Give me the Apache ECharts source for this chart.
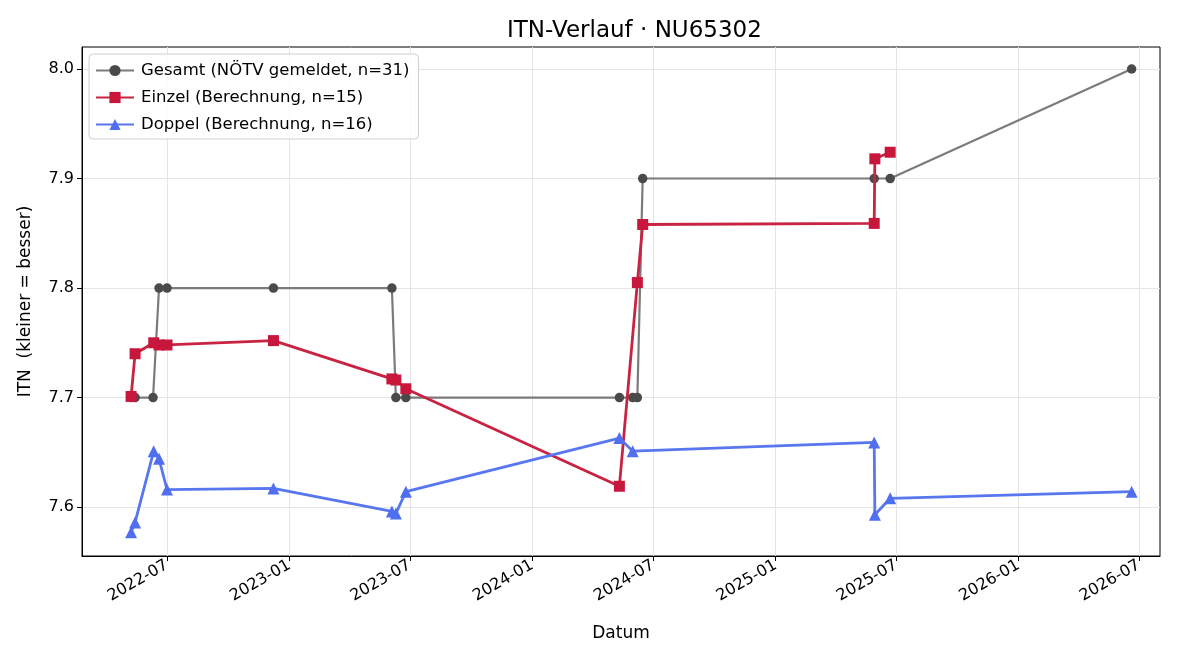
<!DOCTYPE html>
<html><head><meta charset="utf-8">
<script src="https://cdn.jsdelivr.net/npm/echarts@6/dist/echarts.min.js"></script>
<style>html,body{margin:0;padding:0;background:#fff}#c{width:1200px;height:660px}</style>
</head><body><div id="c"></div>
<script>
// ---- data ----
const gesamtDates = ['2022-05-08','2022-05-14','2022-06-10','2022-06-19','2022-07-01','2022-12-08','2023-06-04','2023-06-10','2023-06-25','2024-05-11','2024-05-31','2024-06-07','2024-06-15','2025-05-29','2025-06-22','2026-06-20'];
const gesamtValues = [7.7,7.7,7.7,7.8,7.8,7.8,7.8,7.7,7.7,7.7,7.7,7.7,7.9,7.9,7.9,8.0];

const einzelDates = ['2022-05-08','2022-05-14','2022-06-11','2022-06-19','2022-07-01','2022-12-08','2023-06-04','2023-06-10','2023-06-25','2024-05-11','2024-06-07','2024-06-15','2025-05-29','2025-05-30','2025-06-22'];
const einzelValues = [7.701,7.740,7.750,7.748,7.748,7.752,7.717,7.716,7.708,7.619,7.805,7.858,7.859,7.918,7.924];

const doppelDates = ['2022-05-08','2022-05-14','2022-06-11','2022-06-19','2022-07-01','2022-12-08','2023-06-04','2023-06-10','2023-06-25','2024-05-11','2024-05-31','2025-05-29','2025-05-30','2025-06-22','2026-06-20'];
const doppelValues = [7.577,7.586,7.651,7.644,7.616,7.617,7.596,7.594,7.614,7.663,7.651,7.659,7.593,7.608,7.614];

const xTickLabels = ['2022-07','2023-01','2023-07','2024-01','2024-07','2025-01','2025-07','2026-01','2026-07'];
const yTickValues = [7.6,7.7,7.8,7.9,8.0];

const seriesNames = ['Gesamt (NÖTV gemeldet, n=31)','Einzel (Berechnung, n=15)','Doppel (Berechnung, n=16)'];

// ---- helpers ----
const DAY = 86400000;
function ts(s){ const p = s.split('-').map(Number); return Date.UTC(p[0], p[1]-1, p[2] || 1); }
function pairs(dates, vals){ return dates.map((d,i)=>[ts(d), vals[i]]); }
function fmtMonth(v){ const d = new Date(v); return d.getUTCFullYear() + '-' + String(d.getUTCMonth()+1).padStart(2,'0'); }

const FONT = 'DejaVu Sans';
const xTicks = xTickLabels.map(ts);

const chart = echarts.init(document.getElementById('c'), null, {renderer:'canvas'});
chart.setOption({
  animation: false,
  backgroundColor: '#fff',
  textStyle: {fontFamily: FONT},
  title: {
    text: 'ITN-Verlauf · NU65302',
    left: 502, top: 15,
    textStyle: {fontFamily: FONT, fontSize: 23, fontWeight: 'normal', color: '#000'}
  },
  grid: {left: 82, right: 40, top: 47, bottom: 104, show: true, borderColor: '#000', borderWidth: 1, containLabel: false},
  legend: {
    orient: 'vertical', left: 89, top: 54,
    padding: [8, 9, 6, 6], itemGap: 10, itemWidth: 38, itemHeight: 14,
    borderColor: '#d0d0d0', borderWidth: 1, borderRadius: 4,
    backgroundColor: 'rgba(255,255,255,0.85)',
    textStyle: {fontFamily: FONT, fontSize: 16.5, color: '#000', padding: [0,0,0,2]},
    data: seriesNames
  },
  xAxis: {
    type: 'value',
    min: ts('2022-07-01') - 127.8*DAY,
    max: ts('2026-07-01') + 31.6*DAY,
    name: 'Datum', nameLocation: 'middle', nameGap: 69,
    nameTextStyle: {fontFamily: FONT, fontSize: 17, color: '#000'},
    axisLine: {show: true, onZero: false, lineStyle: {color: '#000', width: 1}},
    axisTick: {show: true, length: 5, lineStyle: {color: '#000'}, customValues: xTicks},
    axisLabel: {customValues: xTicks, rotate: 30, margin: 8, color: '#000', fontFamily: FONT, fontSize: 16, formatter: fmtMonth, hideOverlap: false},
    splitLine: {show: true, lineStyle: {color: '#e5e5e5', width: 1}}
  },
  yAxis: {
    type: 'value',
    min: 7.5553, max: 8.0201,
    name: 'ITN  (kleiner = besser)', nameLocation: 'middle', nameGap: 48,
    nameTextStyle: {fontFamily: FONT, fontSize: 17, color: '#000'},
    axisLine: {show: true, onZero: false, lineStyle: {color: '#000', width: 1}},
    axisTick: {show: true, length: 5, lineStyle: {color: '#000'}, customValues: yTickValues},
    axisLabel: {customValues: yTickValues, color: '#000', fontFamily: FONT, fontSize: 16, margin: 8, formatter: v => v.toFixed(1)},
    splitLine: {show: true, lineStyle: {color: '#e5e5e5', width: 1}}
  },
  series: [
    {
      name: seriesNames[0], type: 'line', data: pairs(gesamtDates, gesamtValues),
      symbol: 'circle', symbolSize: 9.5, showAllSymbol: true,
      lineStyle: {color: '#7b7b7b', width: 2.2},
      itemStyle: {color: '#4a4a4a'}, z: 2
    },
    {
      name: seriesNames[1], type: 'line', data: pairs(einzelDates, einzelValues),
      symbol: 'rect', symbolSize: 11, showAllSymbol: true,
      lineStyle: {color: '#c92342', width: 2.8},
      itemStyle: {color: '#c8173d'}, z: 3
    },
    {
      name: seriesNames[2], type: 'line', data: pairs(doppelDates, doppelValues),
      symbol: 'triangle', symbolSize: 12, showAllSymbol: true,
      lineStyle: {color: '#5877ee', width: 2.8},
      itemStyle: {color: '#4f6ff0'}, z: 4
    }
  ]
});
</script></body></html>
